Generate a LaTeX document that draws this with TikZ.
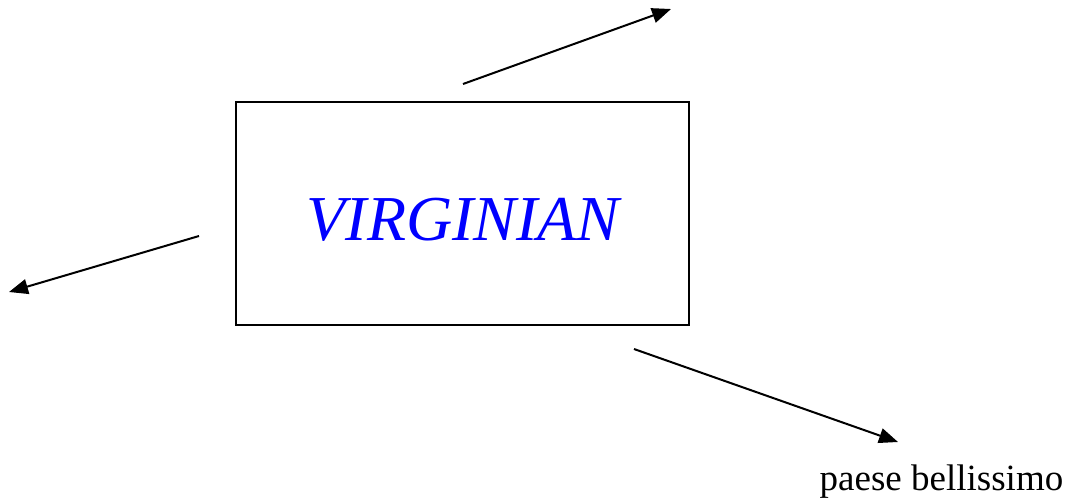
\documentclass[tikz,border=0pt]{standalone}
\usepackage{fontspec}
\setmainfont{Liberation Serif}
\usepackage{xcolor}
\usetikzlibrary{arrows.meta, positioning}

\begin{document}
\begin{tikzpicture}[
    x=1pt, y=-1pt,
    frame/.style={rectangle, draw, line width=1.5pt, minimum width=453pt, minimum height=223pt, inner sep=0pt},
    arrow/.style={-{Triangle[length=19pt, width=15pt]}, line width=2pt},
]
    \useasboundingbox (0,0) rectangle (1073,499);

    \node[frame] (box) at (462.5,213.5) {};
    \node[anchor=base, font=\fontsize{64}{64}\selectfont\itshape, text=blue, inner sep=0pt] (title) at (463,240) {VIRGINIAN};
    \node[anchor=base, font=\fontsize{37}{37}\selectfont, inner sep=0pt] (label) at (941.5,490) {paese bellissimo};

    % free ends of the arrows
    \coordinate (topS) at (463,84);
    \coordinate (topE) at (671,9);
    \coordinate (leftS) at (199,236);
    \coordinate (leftE) at (9,292);
    \coordinate (botS) at (634,349);
    \coordinate (botE) at (898,442);

    \draw[arrow] (topS) -- (topE);
    \draw[arrow] (leftS) -- (leftE);
    \draw[arrow] (botS) -- (botE);
\end{tikzpicture}
\end{document}
